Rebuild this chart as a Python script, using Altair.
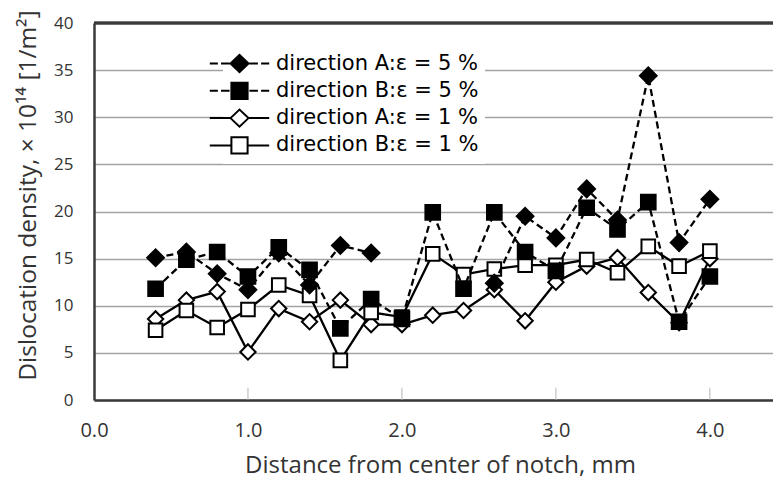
import altair as alt
import pandas as pd

# ---- data ----
X = [0.4, 0.6, 0.8, 1.0, 1.2, 1.4, 1.6, 1.8, 2.0, 2.2, 2.4, 2.6, 2.8, 3.0, 3.2, 3.4, 3.6, 3.8, 4.0]
A5 = [15.1, 15.7, 13.4, 11.7, 15.6, 12.2, 16.4, 15.6, None, None, None, 12.4, 19.5, 17.2, 22.4, 19.1, 34.4, 16.7, 21.3]
B5 = [11.8, 14.9, 15.7, 13.1, 16.2, 13.8, 7.6, 10.7, 8.6, 19.9, 11.8, 19.9, 15.7, 13.7, 20.4, 18.1, 21.0, 8.3, 13.1]
A1 = [8.6, 10.6, 11.5, 5.1, 9.7, 8.3, 10.6, 8.0, 8.0, 9.0, 9.5, 11.7, 8.4, 12.5, 14.2, 15.1, 11.4, 8.2, 15.0]
B1 = [7.4, 9.5, 7.7, 9.6, 12.2, 11.1, 4.2, 9.3, 8.8, 15.5, 13.3, 13.9, 14.3, 14.3, 14.9, 13.5, 16.3, 14.2, 15.8]

SERIES = ["direction A:ε = 5 %", "direction B:ε = 5 %", "direction A:ε = 1 %", "direction B:ε = 1 %"]
VALUES = [A5, B5, A1, B1]
X_TICKS = [0, 1, 2, 3, 4]
INNER_TICKS = [1, 2, 3, 4]
Y_TICKS = [0, 5, 10, 15, 20, 25, 30, 35, 40]

rows = []
for name, vals in zip(SERIES, VALUES):
    seg = 0
    for x, v in zip(X, vals):
        if v is None:
            seg += 1
            continue
        rows.append({"x": x, "y": v, "series": name, "seg": seg})
df = pd.DataFrame(rows)

# ---- styles ----
DASH = [7, 4]
STYLE = {
    SERIES[0]: dict(shape="diamond", fill="black", size=280, dashed=True),
    SERIES[1]: dict(shape="square", fill="black", size=215, dashed=True),
    SERIES[2]: dict(shape="diamond", fill="white", size=235, dashed=False),
    SERIES[3]: dict(shape="square", fill="white", size=185, dashed=False),
}
DIAMOND = "M-1,0L0,-0.95L1,0L0,0.95Z"
SQUARE = "M-0.9,-0.9H0.9V0.9H-0.9Z"
DASHED = "M-3.3,0H-2.4M-2.05,0H-1.1M1.1,0H2.05M2.4,0H3.3"
SOLID_D = "M-3.3,0H-1M1,0H3.3"
SOLID_S = "M-3.3,0H-0.9M0.9,0H3.3"
LEGEND_PATHS = [DASHED + DIAMOND, DASHED + SQUARE, SOLID_D + DIAMOND, SOLID_S + SQUARE]
LEGEND_FILLS = ["black", "black", "white", "white"]
LEGEND_STROKES = ["black", "black", "black", "black"]

W, H = 679, 377
XMAX = 4.41
AXIS_COLOR = "#3a3a3a"
TEXT_COLOR = "#333333"

x_scale = alt.Scale(domain=[0, XMAX], nice=False, zero=False)
y_scale = alt.Scale(domain=[0, 40], nice=False)

x_axis = alt.Axis(
    values=X_TICKS, format=".1f", grid=False, ticks=False, tickSize=0,
    labelFont="Open Sans", labelFontSize=20, labelColor=TEXT_COLOR,
    labelPadding=20, labelFlush=False, labelOverlap=False,
    domainColor=AXIS_COLOR, domainWidth=2.5,
    title="Distance from center of notch, mm", titleFont="Open Sans",
    titleFontSize=24, titleFontWeight="normal", titleColor=TEXT_COLOR, titlePadding=13,
    titleX=346,
)
y_axis = alt.Axis(
    values=Y_TICKS, grid=True, gridColor="#a3a3a3", gridWidth=1.5,
    ticks=False, tickSize=0,
    labelFont="Open Sans", labelFontSize=17, labelColor=TEXT_COLOR,
    labelPadding=21, labelFlush=False, labelOverlap=False,
    domainColor=AXIS_COLOR, domainWidth=2.5,
    title="Dislocation density, × 10¹⁴ [1/m²]", titleFont="Open Sans",
    titleFontSize=24.5, titleFontWeight="normal", titleColor=TEXT_COLOR, titlePadding=13,
    titleY=172,
)

base = alt.Chart(df)

layers = []
# axes carrier + inner ticks
ticks_df = pd.DataFrame({"t": INNER_TICKS})
layers.append(
    alt.Chart(ticks_df).mark_rule(color="#b5b5b5", strokeWidth=1).encode(
        x=alt.X("t:Q", scale=x_scale, axis=x_axis),
        y=alt.datum(0, scale=y_scale, axis=y_axis),
        y2=alt.datum(1.3),
    )
)
# top border
layers.append(
    alt.Chart(ticks_df).mark_rule(color=AXIS_COLOR, strokeWidth=2.5).encode(
        y=alt.datum(40)
    )
)

for name in [SERIES[2], SERIES[3], SERIES[0], SERIES[1]]:
    st = STYLE[name]
    sub = base.transform_filter(alt.datum.series == name)
    line_kwargs = dict(color="black", strokeWidth=2.3)
    if st["dashed"]:
        line_kwargs["strokeDash"] = DASH
    layers.append(
        sub.mark_line(**line_kwargs).encode(
            x=alt.X("x:Q", scale=x_scale), y=alt.Y("y:Q", scale=y_scale), detail="seg:N"
        )
    )
    layers.append(
        sub.mark_point(shape=st["shape"], filled=True, fill=st["fill"], stroke="black",
                       strokeWidth=2, size=st["size"], opacity=1).encode(
            x=alt.X("x:Q", scale=x_scale), y=alt.Y("y:Q", scale=y_scale)
        )
    )

legend = alt.Legend(
    title=None, orient="none", legendX=129, legendY=24,
    labelFont="DejaVu Sans", labelFontSize=21, labelColor="black", labelLimit=400,
    labelOffset=26, rowPadding=1.3, padding=6, fillColor="white",
    symbolSize=324, symbolStrokeWidth=2, symbolStrokeColor="black",
)
layers.append(
    base.transform_filter("false").mark_point(filled=True, stroke="black", strokeWidth=2,
                                               size=324, opacity=1).encode(
        x=alt.X("x:Q", scale=x_scale), y=alt.Y("y:Q", scale=y_scale),
        shape=alt.Shape("series:N", scale=alt.Scale(domain=SERIES, range=LEGEND_PATHS), legend=legend),
        fill=alt.Fill("series:N", scale=alt.Scale(domain=SERIES, range=LEGEND_FILLS), legend=legend),
        stroke=alt.Stroke("series:N", scale=alt.Scale(domain=SERIES, range=LEGEND_STROKES), legend=legend),
    )
)

chart = alt.layer(*layers).properties(
    width=W, height=H,
    autosize=alt.AutoSizeParams(type="none"),
    padding={"left": 86, "top": 15, "right": 0, "bottom": 86},
    background="white",
).configure_view(stroke=None)

chart.save("out.html", embed_options={"renderer": "svg", "actions": False})
